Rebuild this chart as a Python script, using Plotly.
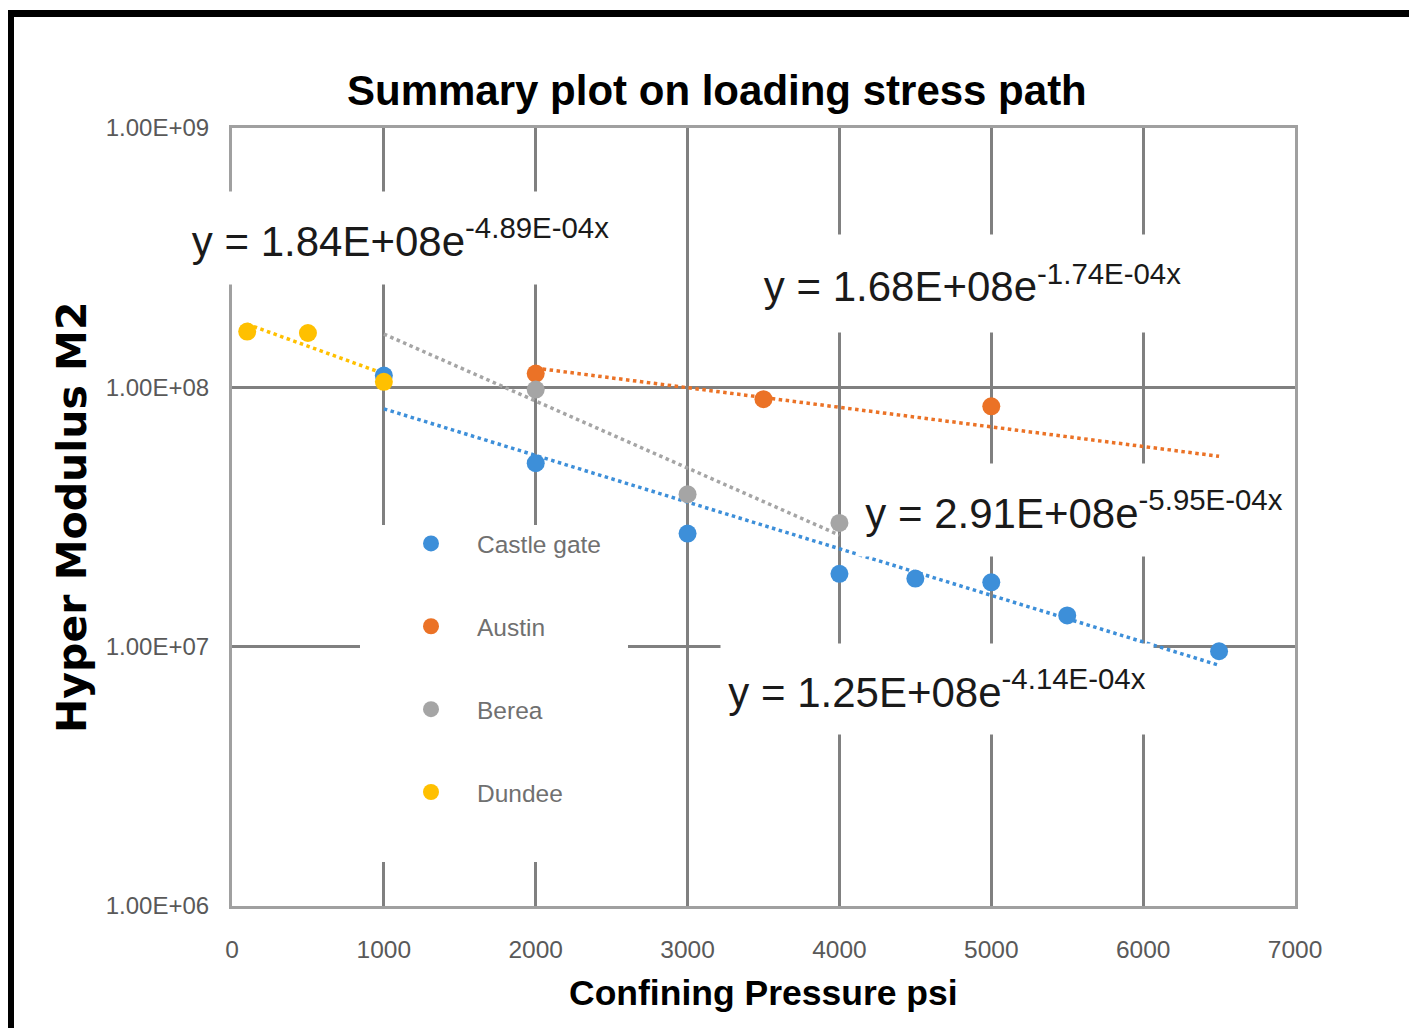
import math
import plotly.graph_objects as go

# ---------------- data ----------------
castle_x = [1000, 2000, 3000, 4000, 4500, 5000, 5500, 6500]
castle_y = [1.11e8, 5.1e7, 2.73e7, 1.91e7, 1.83e7, 1.77e7, 1.32e7, 9.6e6]

austin_x = [2000, 3500, 5000]
austin_y = [1.13e8, 9.0e7, 8.45e7]

berea_x = [2000, 3000, 4000]
berea_y = [9.8e7, 3.87e7, 3.0e7]

dundee_x = [100, 500, 1000]
dundee_y = [1.64e8, 1.62e8, 1.05e8]

series_names = ["Castle gate", "Austin", "Berea", "Dundee"]
series_colors = ["#3d8fd9", "#eb7226", "#a5a5a5", "#ffc000"]

# exponential trendline fits shown on the chart: y = A * exp(B * x)
trend_a = [1.25e8, 1.68e8, 2.91e8, 1.84e8]
trend_b = [-4.14e-4, -1.74e-4, -5.95e-4, -4.89e-4]
trend_x0 = [1000, 2000, 1000, 100]
trend_x1 = [6500, 6500, 4000, 1000]
trend_labels = [
    "y = 1.25E+08e<sup>-4.14E-04x</sup>",
    "y = 1.68E+08e<sup>-1.74E-04x</sup>",
    "y = 2.91E+08e<sup>-5.95E-04x</sup>",
    "y = 1.84E+08e<sup>-4.89E-04x</sup>",
]

x_ticks = [0, 1000, 2000, 3000, 4000, 5000, 6000, 7000]
y_ticks = [1e6, 1e7, 1e8, 1e9]
y_tick_text = ["1.00E+06", "1.00E+07", "1.00E+08", "1.00E+09"]

# ---------------- layout geometry (pixels) ----------------
W, H = 1409, 1028
L, R, T, B = 232, 1295, 128, 906


def px(xp):
    return (xp - L) / (R - L)


def py(yp):
    return (B - yp) / (B - T)


FONT = "Liberation Sans, Arial, sans-serif"

fig = go.Figure()

xs_all = [castle_x, austin_x, berea_x, dundee_x]
ys_all = [castle_y, austin_y, berea_y, dundee_y]

# trendlines
for i in range(4):
    tx = [trend_x0[i], trend_x1[i]]
    ty = [trend_a[i] * math.exp(trend_b[i] * v) for v in tx]
    fig.add_trace(go.Scatter(
        x=tx, y=ty, mode="lines",
        line=dict(color=series_colors[i], width=3.5, dash="dot"),
        showlegend=False, hoverinfo="skip"))

# data points
for i in range(4):
    fig.add_trace(go.Scatter(
        x=xs_all[i], y=ys_all[i], mode="markers", name=series_names[i],
        legendgroup=series_names[i],
        marker=dict(color=series_colors[i], size=18)))

# equation labels (white boxes)
ann_pos = [(937, 689, 430, 88), (972, 283, 445, 95), (1074, 510, 430, 90), (400, 238, 445, 90)]
annotations = []
for i in range(4):
    cx, cy, w, h = ann_pos[i]
    annotations.append(dict(
        x=px(cx), y=py(cy), xref="paper", yref="paper", text=trend_labels[i],
        showarrow=False, bgcolor="white", width=w, height=h,
        xanchor="center", yanchor="middle",
        font=dict(family=FONT, size=42, color="#1a1a1a")))

annotations.append(dict(
    x=px(717), y=py(90), xref="paper", yref="paper",
    text="<b>Summary plot on loading stress path</b>", showarrow=False,
    xanchor="center", yanchor="middle",
    font=dict(family=FONT, size=42, color="#000000")))
annotations.append(dict(
    x=px(763), y=py(993), xref="paper", yref="paper",
    text="<b>Confining Pressure psi</b>", showarrow=False,
    xanchor="center", yanchor="middle",
    font=dict(family=FONT, size=35.5, color="#000000")))
annotations.append(dict(
    x=px(72), y=py(518), xref="paper", yref="paper",
    text="<b>Hyper Modulus M2</b>", showarrow=False, textangle=-90,
    xanchor="center", yanchor="middle",
    font=dict(family="DejaVu Sans", size=41, color="#000000")))

shapes = [
    # legend white background masking gridlines
    dict(type="rect", xref="paper", yref="paper", x0=px(360), x1=px(628),
         y0=py(862), y1=py(525), fillcolor="white", line=dict(width=0), layer="above"),
    # black frame (top and left)
    dict(type="rect", xref="paper", yref="paper", x0=px(8), x1=px(1409),
         y0=py(17), y1=py(10), fillcolor="black", line=dict(width=0), layer="above"),
    dict(type="rect", xref="paper", yref="paper", x0=px(8), x1=px(14),
         y0=py(1028), y1=py(10), fillcolor="black", line=dict(width=0), layer="above"),
]

fig.update_layout(
    width=W, height=H,
    margin=dict(l=L, r=W - R, t=T, b=H - B, autoexpand=False),
    paper_bgcolor="white", plot_bgcolor="white",
    showlegend=True,
    legend=dict(x=px(385), y=py(521), xanchor="left", yanchor="top",
                bgcolor="rgba(0,0,0,0)", tracegroupgap=48, itemwidth=82,
                font=dict(family=FONT, size=24.5, color="#707070")),
    annotations=annotations,
    shapes=shapes,
)

fig.update_xaxes(
    range=[0, 7000], tickvals=x_ticks, ticktext=[str(v) for v in x_ticks],
    showgrid=True, gridcolor="#808080", gridwidth=3,
    showline=True, linecolor="#a0a0a0", linewidth=3, mirror=True,
    zeroline=False, ticks="", ticklabelstandoff=20,
    tickfont=dict(family=FONT, size=24.5, color="#595959"))
fig.update_yaxes(
    type="log", range=[6, 9], tickvals=y_ticks, ticktext=y_tick_text,
    showgrid=True, gridcolor="#808080", gridwidth=3,
    showline=True, linecolor="#a0a0a0", linewidth=3, mirror=True,
    zeroline=False, ticks="", ticklabelstandoff=15,
    tickfont=dict(family=FONT, size=24, color="#595959"))

fig.write_html("out.html")
